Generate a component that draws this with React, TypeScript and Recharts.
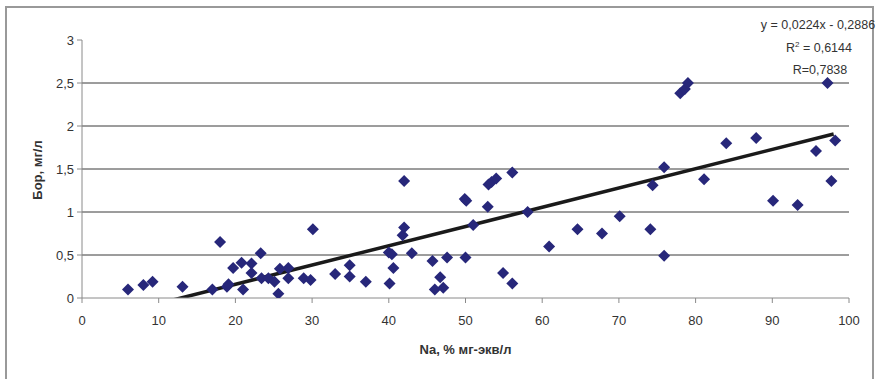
import React from 'react';
import {
  ScatterChart,
  Scatter,
  XAxis,
  YAxis,
  ReferenceLine,
  Customized,
} from 'recharts';

// Na, % мг-экв/л
const naValues = [
  6.0, 8.0, 9.2, 13.1, 17.0, 18.0, 18.9, 19.1, 19.7, 20.8, 21.0, 22.1, 22.1, 23.3, 23.4, 24.3,
  25.1, 25.6, 25.8, 26.9, 26.9, 28.9, 29.8, 30.1, 33.0, 34.9, 34.9, 37.0, 40.1, 40.0, 40.4,
  40.6, 41.8, 42.0, 42.0, 43.0, 45.7, 46.0, 46.7, 47.1, 47.6, 50.0, 49.9, 50.1, 51.0, 52.9,
  53.0, 53.4, 54.0, 54.9, 56.1, 56.1, 58.1, 60.9, 64.6, 67.8, 70.1, 74.1, 74.4, 75.9, 75.9,
  78.0, 78.6, 79.0, 81.1, 84.0, 87.9, 90.1, 93.3, 95.7, 97.2, 97.7, 98.2,
];

// Бор, мг/л
const boronValues = [
  0.10, 0.15, 0.19, 0.13, 0.10, 0.65, 0.13, 0.16, 0.35, 0.41, 0.10, 0.40, 0.29, 0.52, 0.23, 0.23,
  0.19, 0.05, 0.34, 0.35, 0.23, 0.23, 0.21, 0.80, 0.28, 0.38, 0.25, 0.19, 0.17, 0.53, 0.51,
  0.35, 0.73, 0.82, 1.36, 0.52, 0.43, 0.10, 0.24, 0.12, 0.47, 0.47, 1.15, 1.13, 0.85, 1.06,
  1.32, 1.35, 1.39, 0.29, 1.46, 0.17, 1.00, 0.60, 0.80, 0.75, 0.95, 0.80, 1.31, 1.52, 0.49,
  2.38, 2.43, 2.50, 1.38, 1.80, 1.86, 1.13, 1.08, 1.71, 2.50, 1.36, 1.83,
];

const xTicks = [0, 10, 20, 30, 40, 50, 60, 70, 80, 90, 100];
const yTicks = [0, 0.5, 1, 1.5, 2, 2.5, 3];
const gridValues = [0.5, 1, 1.5, 2, 2.5];

// linear trend y = 0,0224x - 0,2886
const slope = 0.0224;
const intercept = -0.2886;
const trendX = [6, 98];

const points = naValues.map((x, i) => ({ x, y: boronValues[i] }));
const trendSegment = trendX.map((x) => ({ x, y: slope * x + intercept }));

const FONT = '"Liberation Sans", Arial, sans-serif';
const MARKER = '#27277a';

const fmt = (v: number) => String(v).replace('.', ',');

const Diamond = (props: any) => {
  const { cx, cy } = props;
  const r = 6;
  return (
    <polygon
      points={`${cx},${cy - r} ${cx + r},${cy} ${cx},${cy + r} ${cx - r},${cy}`}
      fill={MARKER}
    />
  );
};

const Equation = () => (
  <g fontFamily={FONT} fontSize={12.5} fill="#333" textAnchor="middle">
    <text x={818} y={29}>y = 0,0224x - 0,2886</text>
    <text x={819} y={52}>
      R<tspan fontSize={8} dy={-5}>2</tspan>
      <tspan dy={5}> = 0,6144</tspan>
    </text>
    <text x={820} y={74}>R=0,7838</text>
  </g>
);

export default function App() {
  return (
    <div style={{ position: 'absolute', left: 0, top: 0, width: 880, height: 379, overflow: 'hidden', background: '#fff' }}>
      <div
        style={{
          position: 'absolute',
          left: 5,
          top: 6,
          width: 869,
          height: 390,
          border: '2px solid #999',
          boxSizing: 'border-box',
        }}
      />
      <ScatterChart
        width={880}
        height={379}
        margin={{ top: 40, right: 31, bottom: 51, left: 42 }}
        style={{ position: 'absolute', left: 0, top: 0 }}
      >
        <XAxis
          type="number"
          dataKey="x"
          domain={[0, 100]}
          ticks={xTicks}
          height={30}
          tickSize={5}
          tickMargin={13}
          stroke="#8a8a8a"
          tick={{ fontSize: 13, fill: '#333', fontFamily: FONT }}
          label={{
            content: () => (
              <text x={465.5} y={354} textAnchor="middle" fontFamily={FONT} fontSize={13} fontWeight="bold" fill="#333">
                Na, % мг-экв/л
              </text>
            ),
          }}
        />
        <YAxis
          type="number"
          dataKey="y"
          domain={[0, 3]}
          ticks={yTicks}
          width={40}
          tickSize={5}
          tickMargin={3}
          allowDataOverflow
          stroke="#8a8a8a"
          tickFormatter={fmt}
          tick={{ fontSize: 13, fill: '#333', fontFamily: FONT }}
          label={{
            content: () => (
              <text
                x={42}
                y={170}
                transform="rotate(-90 42 170)"
                textAnchor="middle"
                fontFamily={FONT}
                fontSize={13}
                fontWeight="bold"
                fill="#333"
              >
                Бор, мг/л
              </text>
            ),
          }}
        />
        {gridValues.map((v) => (
          <ReferenceLine key={v} y={v} stroke="#3a3a3a" strokeWidth={1} />
        ))}
        <Scatter data={points} shape={<Diamond />} isAnimationActive={false} />
        <ReferenceLine
          segment={trendSegment}
          stroke="#1a1a1a"
          strokeWidth={3.5}
          ifOverflow="hidden"
        />
        <Customized component={Equation} />
      </ScatterChart>
    </div>
  );
}
